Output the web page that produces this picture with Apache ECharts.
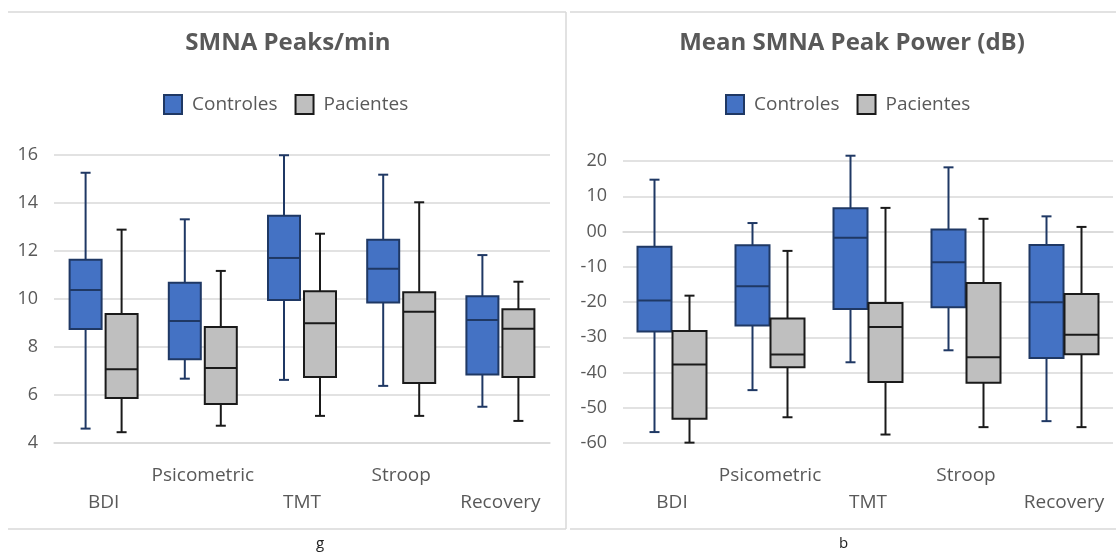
<!DOCTYPE html>
<html>
<head>
<meta charset="utf-8">
<script src="https://cdn.jsdelivr.net/npm/echarts@6/dist/echarts.min.js"></script>
<style>
html,body{margin:0;padding:0;background:#fff;}
#c{width:1116px;height:554px;}
</style>
</head>
<body>
<div id="c"></div>
<script>
// ---- data ----
const categories = ['BDI', 'Psicometric', 'TMT', 'Stroop', 'Recovery'];
const seriesNames = ['Controles', 'Pacientes'];
// [min, Q1, median, Q3, max]
const peaksControles = [
  [4.60, 8.75, 10.38, 11.64, 15.26],
  [6.68, 7.49, 9.08, 10.68, 13.32],
  [6.63, 9.96, 11.71, 13.47, 15.99],
  [6.38, 9.85, 11.26, 12.47, 15.18],
  [5.51, 6.85, 9.13, 10.11, 11.83]
];
const peaksPacientes = [
  [4.45, 5.88, 7.07, 9.38, 12.89],
  [4.72, 5.63, 7.13, 8.83, 11.17],
  [5.13, 6.75, 8.99, 10.32, 12.72],
  [5.13, 6.50, 9.47, 10.28, 14.03],
  [4.92, 6.75, 8.76, 9.57, 10.72]
];
const powerControles = [
  [-56.9, -28.4, -19.6, -4.3, 14.7],
  [-45.0, -26.7, -15.5, -3.9, 2.4],
  [-37.1, -22.0, -1.8, 6.6, 21.5],
  [-33.7, -21.5, -8.7, 0.6, 18.2],
  [-53.8, -35.9, -20.1, -3.8, 4.3]
];
const powerPacientes = [
  [-59.9, -53.1, -37.7, -28.2, -18.2],
  [-52.7, -38.5, -34.9, -24.7, -5.5],
  [-57.6, -42.7, -27.1, -20.3, 6.7],
  [-55.5, -42.9, -35.7, -14.6, 3.6],
  [-55.5, -34.8, -29.3, -17.7, 1.3]
];
const peaksTicks = {min: 4, max: 16, interval: 2};
const powerTicks = {min: -60, max: 20, interval: 10};
const titles = ['SMNA Peaks/min', 'Mean SMNA Peak Power (dB)'];
const panelLetters = ['g', 'b'];

// ---- styles ----
const BLUE = '#4472C4', BLUE_B = '#1F3864';
const GRAY = '#BFBFBF', GRAY_B = '#1a1a1a';
const TXT = '#595959';
const GRID = '#d9d9d9';
const FONT = 'Open Sans';

function makeRender(offset, boxW, capW, stroke, fill) {
  return function (params, api) {
    const xi = api.value(0);
    const ys = [1, 2, 3, 4, 5].map(d => api.coord([xi, api.value(d)])[1]);
    const cx = api.coord([xi, api.value(1)])[0] + offset;
    const [yMin, yQ1, yMed, yQ3, yMax] = ys;
    const st = {stroke: stroke, lineWidth: 2, fill: null};
    return {
      type: 'group',
      children: [
        {type: 'line', shape: {x1: cx, y1: yMax, x2: cx, y2: yQ3}, style: st},
        {type: 'line', shape: {x1: cx, y1: yQ1, x2: cx, y2: yMin}, style: st},
        {type: 'line', shape: {x1: cx - capW / 2, y1: yMax, x2: cx + capW / 2, y2: yMax}, style: st},
        {type: 'line', shape: {x1: cx - capW / 2, y1: yMin, x2: cx + capW / 2, y2: yMin}, style: st},
        {type: 'rect', shape: {x: cx - boxW / 2, y: yQ3, width: boxW, height: yQ1 - yQ3},
          style: {fill: fill, stroke: stroke, lineWidth: 2}},
        {type: 'line', shape: {x1: cx - boxW / 2, y1: yMed, x2: cx + boxW / 2, y2: yMed}, style: st}
      ]
    };
  };
}

function toData(arr) { return arr.map((d, i) => [i].concat(d)); }

const grids = [
  {left: 54, right: 566, top: 155, bottom: 111},
  {left: 623, right: 3, top: 161, bottom: 111}
];
const ticks = [peaksTicks, powerTicks];
const dataSets = [[peaksControles, peaksPacientes], [powerControles, powerPacientes]];
const geom = [{off: 18, w: 32}, {off: 17.5, w: 34}];

const option = {
  backgroundColor: '#fff',
  animation: false,
  textStyle: {fontFamily: FONT},
  title: titles.map((t, i) => ({
    text: t,
    left: i === 0 ? 283 : 847,
    top: 26,
    textAlign: 'center',
    textStyle: {fontFamily: FONT, fontSize: 24, fontWeight: 'bold', color: TXT}
  })),
  legend: [158, 720].map((x, i) => ({
    left: x,
    top: 89,
    itemWidth: 18,
    itemHeight: 19,
    itemGap: 17,
    icon: 'rect',
    textStyle: {fontFamily: FONT, fontSize: 19, color: TXT, padding: [0, 0, 0, 5]},
    data: [
      {name: seriesNames[0], itemStyle: {color: BLUE, borderColor: BLUE_B, borderWidth: 2}},
      {name: seriesNames[1], itemStyle: {color: GRAY, borderColor: GRAY_B, borderWidth: 2}}
    ]
  })),
  grid: grids,
  xAxis: grids.map((g, i) => ({
    type: 'category',
    gridIndex: i,
    data: categories,
    axisLine: {show: true, lineStyle: {color: GRID, width: 1.5}},
    axisTick: {show: false},
    axisLabel: {
      interval: 0,
      margin: 19,
      lineHeight: 27,
      fontFamily: FONT,
      fontSize: 19,
      color: TXT,
      formatter: (v, idx) => (idx % 2 === 1 ? v : '\n' + v)
    }
  })),
  yAxis: grids.map((g, i) => ({
    type: 'value',
    gridIndex: i,
    min: ticks[i].min,
    max: ticks[i].max,
    interval: ticks[i].interval,
    axisLine: {show: false},
    axisTick: {show: false},
    splitLine: {lineStyle: {color: GRID, width: 1.5}},
    axisLabel: {
      margin: 16,
      fontFamily: FONT,
      fontSize: 18,
      color: TXT,
      formatter: v => (v === 0 ? '00' : String(v))
    }
  })),
  series: [],
  graphic: []
};

[0, 1].forEach(ci => {
  const g = geom[ci];
  option.series.push({
    type: 'custom', name: seriesNames[0], xAxisIndex: ci, yAxisIndex: ci,
    itemStyle: {color: BLUE, borderColor: BLUE_B},
    encode: {x: 0, y: [1, 2, 3, 4, 5]},
    renderItem: makeRender(-g.off, g.w, 10, BLUE_B, BLUE),
    data: toData(dataSets[ci][0])
  });
  option.series.push({
    type: 'custom', name: seriesNames[1], xAxisIndex: ci, yAxisIndex: ci,
    itemStyle: {color: GRAY, borderColor: GRAY_B},
    encode: {x: 0, y: [1, 2, 3, 4, 5]},
    renderItem: makeRender(g.off, g.w, 10, GRAY_B, GRAY),
    data: toData(dataSets[ci][1])
  });
});

// panel frames and letters
const frameStyle = {stroke: GRID, lineWidth: 1.5};
option.graphic = [
  {type: 'line', shape: {x1: 8, y1: 12, x2: 566, y2: 12}, style: frameStyle, silent: true},
  {type: 'line', shape: {x1: 566, y1: 12, x2: 566, y2: 529}, style: frameStyle, silent: true},
  {type: 'line', shape: {x1: 8, y1: 529, x2: 566, y2: 529}, style: frameStyle, silent: true},
  {type: 'line', shape: {x1: 570, y1: 12, x2: 1116, y2: 12}, style: frameStyle, silent: true},
  {type: 'line', shape: {x1: 570, y1: 529, x2: 1116, y2: 529}, style: frameStyle, silent: true},
  {type: 'text', left: 316, top: 536, style: {text: panelLetters[0], font: '15px "Open Sans"', fill: '#222'}},
  {type: 'text', left: 839, top: 536, style: {text: panelLetters[1], font: '15px "Open Sans"', fill: '#222'}}
];

const chart = echarts.init(document.getElementById('c'), null, {renderer: 'canvas'});
chart.setOption(option);
</script>
</body>
</html>
